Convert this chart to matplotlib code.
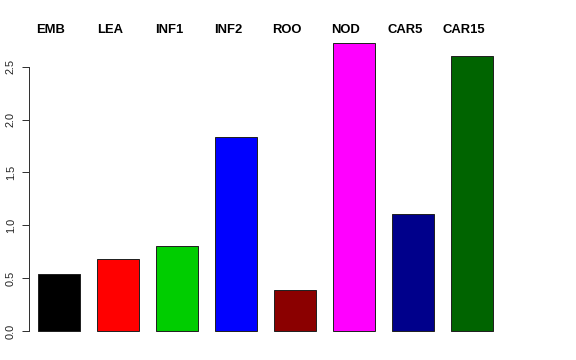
import matplotlib
matplotlib.use("Agg")
import matplotlib.pyplot as plt
from matplotlib.transforms import blended_transform_factory, offset_copy

categories = ["EMB", "LEA", "INF1", "INF2", "ROO", "NOD", "CAR5", "CAR15"]
values = [0.54, 0.68, 0.80, 1.835, 0.39, 2.727, 1.107, 2.60]
colors = ["#000000", "#FF0000", "#00CD00", "#0000FF", "#8B0000", "#FF00FF", "#00008B", "#006400"]
yticks = [0.0, 0.5, 1.0, 1.5, 2.0, 2.5]

plt.rcParams['font.family'] = ['Liberation Sans', 'DejaVu Sans']

W, H = 576, 360
fig = plt.figure(figsize=(W / 72, H / 72), dpi=72)

# pixel geometry
ax_left_px, ax_right_px = 29, 540
ax_top_px, ax_bot_px = 31, 342
zero_px = 331
px_per_unit_y = 105.7
first_center_px = 59
px_per_bar = 59

ax = fig.add_axes([ax_left_px / W, (H - ax_bot_px) / H,
                   (ax_right_px - ax_left_px) / W, (ax_bot_px - ax_top_px) / H])

x = list(range(len(categories)))
ax.bar(x, values, width=42 / 59, color=colors, edgecolor="#222222", linewidth=1.0)

ax.set_xlim(-(first_center_px - ax_left_px) / px_per_bar,
            (ax_right_px - first_center_px) / px_per_bar)
ax.set_ylim(-(ax_bot_px - zero_px) / px_per_unit_y,
            (zero_px - ax_top_px) / px_per_unit_y)

for s in ["top", "right", "bottom"]:
    ax.spines[s].set_visible(False)
ax.spines["left"].set_bounds(0, 2.5)
ax.spines["left"].set_color("#333333")
ax.spines["left"].set_linewidth(1.0)
ax.set_xticks([])
ax.set_yticks(yticks)
ax.set_yticklabels([f"{v:.1f}" for v in yticks], rotation=90, va="center", fontsize=11, color="#222222")
ax.tick_params(axis="y", length=7, width=1.0, color="#333333", pad=6)

trans = blended_transform_factory(ax.transData, fig.transFigure)
trans = offset_copy(trans, fig=fig, x=-8, y=0, units="dots")
for xi, lab in zip(x, categories):
    ax.text(xi, (H - 30) / H, lab, transform=trans, ha="center", va="center",
            fontsize=13, fontweight="bold", clip_on=False)

fig.savefig("out.png", dpi=72)
